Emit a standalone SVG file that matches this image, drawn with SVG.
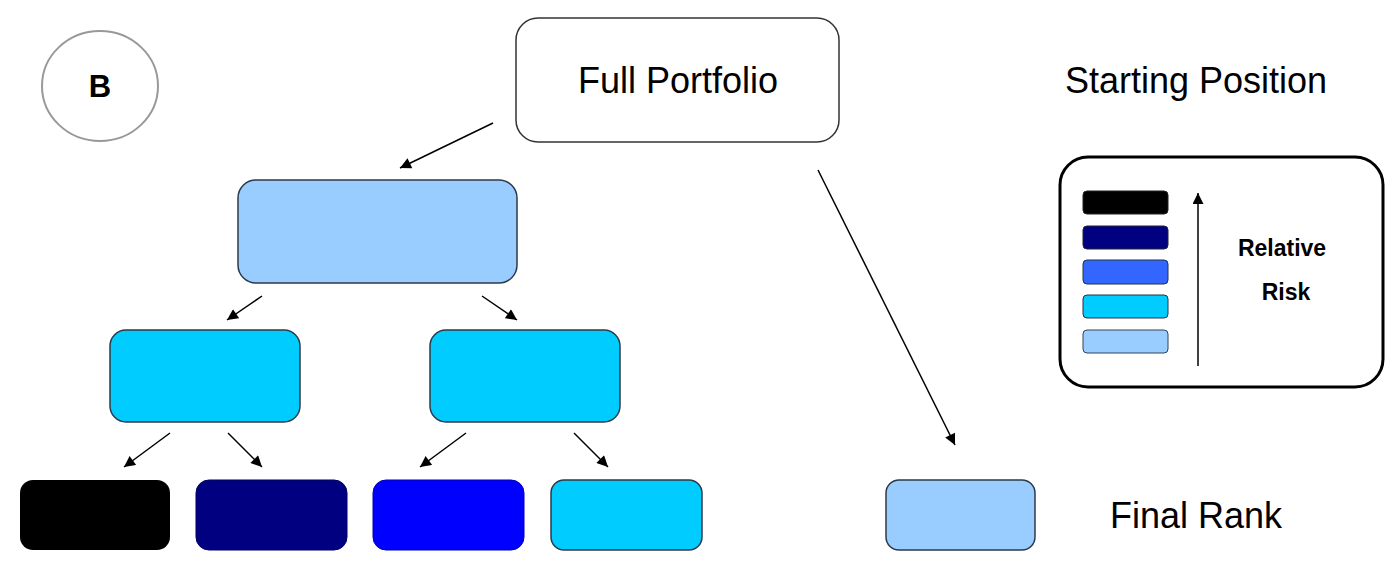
<svg xmlns="http://www.w3.org/2000/svg" width="1393" height="564" viewBox="0 0 1393 564">
<defs>
<style>
.t{font-family:"Liberation Sans",Arial,sans-serif;fill:#000}
.big{font-size:36px}
.bold{font-weight:bold}
.box{stroke:#2b3a4a;stroke-width:1.5}
.c{stroke:#000;stroke-width:1.5;fill:none;marker-end:url(#ah)}
</style>
<marker id="ah" viewBox="0 0 10 10" refX="10" refY="5" markerWidth="12" markerHeight="11" markerUnits="userSpaceOnUse" orient="auto">
<path d="M0,0 L10,5 L0,10 z" fill="#000"/>
</marker>
</defs>
<rect width="1393" height="564" fill="#fff"/>

<g id="label-b">
<ellipse cx="100" cy="86" rx="58" ry="55" fill="#fff" stroke="#999" stroke-width="2"/>
<text class="t bold" x="100" y="97" font-size="31" text-anchor="middle">B</text>
</g>

<g id="full-portfolio">
<rect x="516" y="18" width="323" height="124" rx="22" fill="#fff" stroke="#333" stroke-width="1.5"/>
<text class="t big" x="678" y="93" text-anchor="middle">Full Portfolio</text>
</g>

<g id="starting-position">
<text class="t big" x="1196" y="93" text-anchor="middle">Starting Position</text>
</g>

<g id="level1">
<rect class="box" x="238" y="180" width="279" height="103" rx="18" fill="#99CCFF"/>
</g>
<g id="level2-left">
<rect class="box" x="110" y="330" width="190" height="92" rx="16" fill="#00CCFF"/>
</g>
<g id="level2-right">
<rect class="box" x="430" y="330" width="190" height="92" rx="16" fill="#00CCFF"/>
</g>
<g id="leaf-1">
<rect x="20" y="480" width="150" height="70" rx="13" fill="#000"/>
</g>
<g id="leaf-2">
<rect x="196" y="480" width="151" height="70" rx="13" fill="#000080" stroke="#000060" stroke-width="1"/>
</g>
<g id="leaf-3">
<rect x="373" y="480" width="151" height="70" rx="13" fill="#0000FF" stroke="#0000b0" stroke-width="1"/>
</g>
<g id="leaf-4">
<rect class="box" x="551" y="480" width="151" height="70" rx="13" fill="#00CCFF"/>
</g>
<g id="final-rank">
<rect class="box" x="886" y="480" width="149" height="70" rx="13" fill="#99CCFF"/>
<text class="t big" x="1110" y="528">Final Rank</text>
</g>

<g id="legend">
<rect x="1060" y="157" width="323" height="230" rx="28" fill="#fff" stroke="#000" stroke-width="3"/>
<rect x="1083" y="191" width="85" height="23" rx="4" fill="#000" stroke="#222" stroke-width="1"/>
<rect x="1083" y="226" width="85" height="23" rx="4" fill="#000080" stroke="#223" stroke-width="1"/>
<rect x="1083" y="260" width="85" height="24" rx="4" fill="#3366FF" stroke="#234" stroke-width="1"/>
<rect x="1083" y="295" width="85" height="23" rx="4" fill="#00CCFF" stroke="#234" stroke-width="1"/>
<rect x="1083" y="330" width="85" height="23" rx="4" fill="#99CCFF" stroke="#345" stroke-width="1"/>
<line x1="1198" y1="366" x2="1198" y2="193" stroke="#000" stroke-width="1.5" marker-end="url(#ah)"/>
<text class="t bold" x="1282" y="256" font-size="23" text-anchor="middle">Relative</text>
<text class="t bold" x="1286" y="300" font-size="23" text-anchor="middle">Risk</text>
</g>

<g id="connectors">
<line class="c" x1="493" y1="123" x2="400" y2="168"/>
<line class="c" x1="262" y1="296" x2="227" y2="320"/>
<line class="c" x1="482" y1="296" x2="517" y2="320"/>
<line class="c" x1="170" y1="433" x2="124" y2="467"/>
<line class="c" x1="228" y1="433" x2="262" y2="467"/>
<line class="c" x1="466" y1="433" x2="420" y2="467"/>
<line class="c" x1="574" y1="433" x2="608" y2="467"/>
<line class="c" x1="818" y1="170" x2="955" y2="445"/>
</g>
</svg>
